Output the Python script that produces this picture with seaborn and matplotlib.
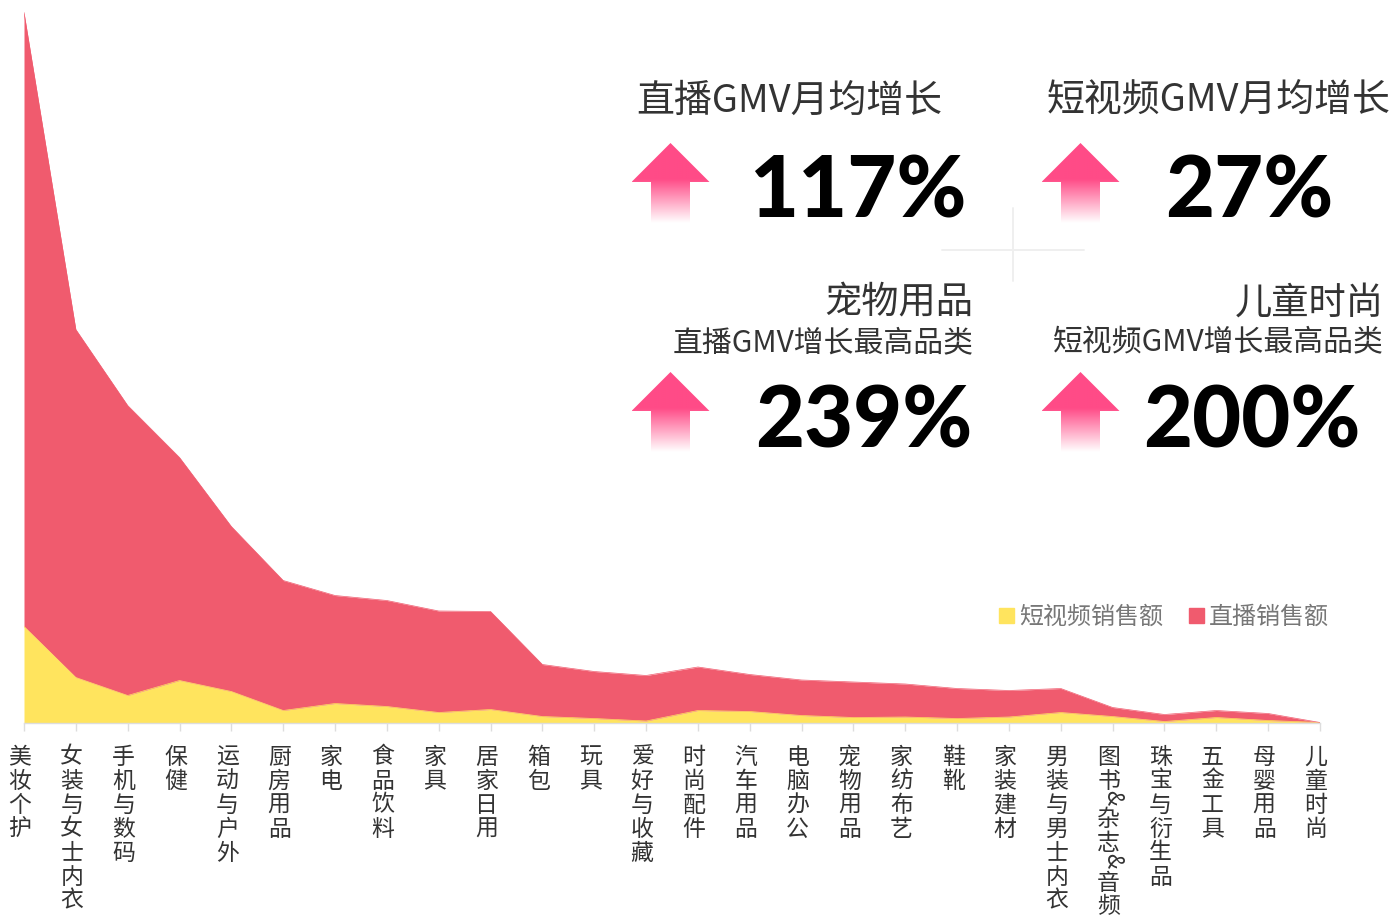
import numpy as np
import pandas as pd
import matplotlib.pyplot as plt
import seaborn as sns
from matplotlib.colors import LinearSegmentedColormap
from matplotlib.patches import Patch, Polygon

# Data
categories = ['美妆个护', '女装与女士内衣', '手机与数码', '保健', '运动与户外', '厨房用品', '家电',
              '食品饮料', '家具', '居家日用', '箱包', '玩具', '爱好与收藏', '时尚配件', '汽车用品',
              '电脑办公', '宠物用品', '家纺布艺', '鞋靴', '家装建材', '男装与男士内衣',
              '图书&杂志&音频', '珠宝与衍生品', '五金工具', '母婴用品', '儿童时尚']
short_video = [96, 45, 27, 42, 31, 12, 19, 16, 10, 13, 6, 4, 1.5, 12, 11, 7, 5, 5.5, 4, 5.5, 10, 6, 1, 5, 2, 0]
live = [614, 348, 290, 223, 165, 130, 108, 106, 101.5, 98, 52, 47, 45.5, 43.5, 37, 35.5, 35.5, 33, 30, 26.5,
        24, 9, 7, 7, 7, 0]
series_names = ['短视频销售额', '直播销售额']

kpi_titles = ['直播GMV月均增长', '短视频GMV月均增长']
kpi_values = ['117%', '27%', '239%', '200%']
top_names = ['宠物用品', '儿童时尚']
top_notes = ['直播GMV增长最高品类', '短视频GMV增长最高品类']

YELLOW = '#FFE45E'
RED = '#F05B6E'
PINK = '#FF4B87'
TEXT = '#333333'
W, H = 1391, 917

sns.set_theme(style='white')
plt.rcParams['font.family'] = ['Noto Sans CJK SC', 'DejaVu Sans']

df = pd.DataFrame({'pos': range(len(categories)), 'short': short_video, 'live': live})
df['total'] = df['short'] + df['live']

fig = plt.figure(figsize=(W / 100, H / 100), dpi=100, facecolor='white')
ax = fig.add_axes([24 / W, (H - 722.5) / H, 1296 / W, 722 / H])

# Stacked areas, edges drawn by seaborn so the seams stay clean
sns.lineplot(data=df, x='pos', y='short', color=YELLOW, lw=0.5, ax=ax)
sns.lineplot(data=df, x='pos', y='total', color=RED, lw=0.5, ax=ax)
ax.fill_between(df['pos'], 0, df['short'], color=YELLOW, lw=0)
ax.fill_between(df['pos'], df['short'], df['total'], color=RED, lw=0)

ax.set_xlim(0, len(categories) - 1)
ax.set_ylim(0, 722)
ax.set_xlabel('')
ax.set_ylabel('')
ax.set_yticks([])
ax.set_xticks(df['pos'])
ax.set_xticklabels([])
ax.patch.set_alpha(0)
sns.despine(ax=ax, left=True)
ax.spines['bottom'].set_color('#DDDDDD')
ax.spines['bottom'].set_linewidth(1)
ax.tick_params(axis='x', length=5.8, width=1, color='#DDDDDD', bottom=True)

# Vertical category labels, one character at a time
for i, name in enumerate(categories):
    y_off = -34.5
    for ch in name:
        if ch == '&':
            ax.annotate(ch, xy=(i, 0), xycoords=('data', 'axes fraction'), xytext=(0, y_off + 7),
                        textcoords='offset pixels', ha='center', va='center', rotation=-90,
                        fontsize=16, color=TEXT)
            y_off -= 15
        else:
            ax.annotate(ch, xy=(i, 0), xycoords=('data', 'axes fraction'), xytext=(-4, y_off),
                        textcoords='offset pixels', ha='center', va='center',
                        fontsize=16.5, color=TEXT)
            y_off -= 24

ax.legend(handles=[Patch(color=YELLOW, label=series_names[0]), Patch(color=RED, label=series_names[1])],
          ncol=2, frameon=False, loc='center left', bbox_to_anchor=(999 / W, (H - 617) / H),
          bbox_transform=fig.transFigure, fontsize=17.3, labelcolor='#777777', handlelength=0.625,
          handleheight=0.62, handletextpad=0.2, columnspacing=1.08, borderpad=0, borderaxespad=0)

# Overlay in pixel coordinates for the KPI block
ov = fig.add_axes([0, 0, 1, 1], zorder=5)
ov.axis('off')
ov.patch.set_alpha(0)

ov.plot([942, 1084], [249.5, 249.5], color='#EFEFEF', lw=1.4)
ov.plot([1013, 1013], [208, 281], color='#EFEFEF', lw=1.4)

arrow_cmap = LinearSegmentedColormap.from_list('up', [(0, PINK), (0.45, PINK), (1, '#FFFFFF')])
grad = np.linspace(0, 1, 200).reshape(-1, 1)
for ax_x, ax_y in [(670.5, 143), (1080.5, 143), (670.5, 372), (1080.5, 372)]:
    im = ov.imshow(grad, cmap=arrow_cmap, aspect='auto', vmin=0, vmax=1,
                   extent=(ax_x - 39, ax_x + 39, ax_y + 80, ax_y))
    shape = Polygon([(ax_x, ax_y), (ax_x + 39, ax_y + 39), (ax_x + 19.5, ax_y + 39), (ax_x + 19.5, ax_y + 80),
                     (ax_x - 19.5, ax_y + 80), (ax_x - 19.5, ax_y + 39), (ax_x - 39, ax_y + 39)],
                    transform=ov.transData, fc='none', ec='none')
    ov.add_patch(shape)
    im.set_clip_path(shape)

ov.set_xlim(0, W)
ov.set_ylim(H, 0)

ov.text(636, 101.5, kpi_titles[0], fontsize=27.3, color=TEXT, va='center')
ov.text(1047, 101.5, kpi_titles[1], fontsize=27.3, color=TEXT, va='center')
ov.text(973, 303, top_names[0], fontsize=26.8, color=TEXT, va='center', ha='right')
ov.text(1384, 303, top_names[1], fontsize=26.8, color=TEXT, va='center', ha='right')
ov.text(974, 343, top_notes[0], fontsize=21.5, color=TEXT, va='center', ha='right')
ov.text(1384, 343, top_notes[1], fontsize=21.5, color=TEXT, va='center', ha='right')

for label, x, y in zip(kpi_values, [749, 1165, 755, 1143], [186, 186, 415, 415]):
    ov.text(x, y, label, fontsize=61, family='Lato', fontweight=900, color='black', va='center_baseline')

fig.savefig('out.png', dpi=100)
